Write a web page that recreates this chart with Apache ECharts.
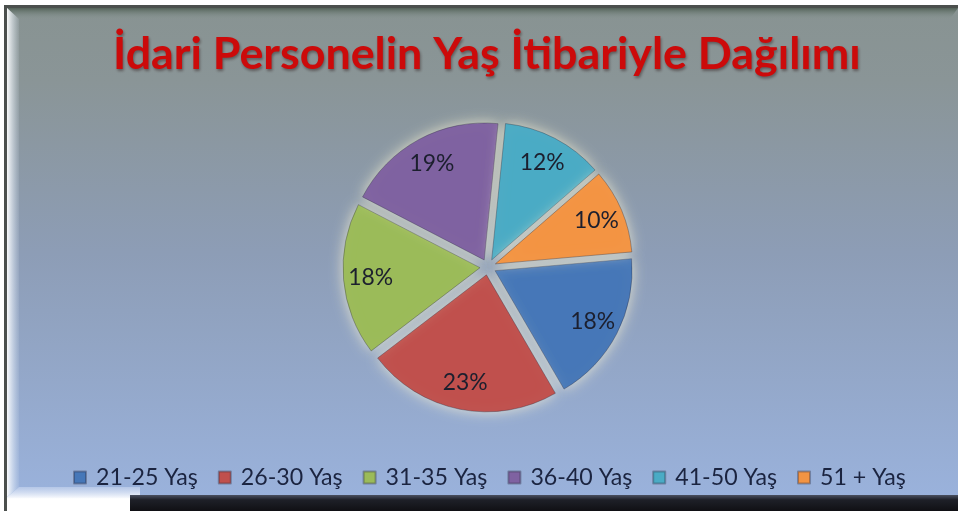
<!DOCTYPE html>
<html><head><meta charset="utf-8">
<script src="https://cdn.jsdelivr.net/npm/echarts@6/dist/echarts.min.js"></script>
<style>html,body{margin:0;padding:0;background:#fff}#c{width:958px;height:511px}</style>
</head><body><div id="c"></div>
<script>
const titleText = 'İdari Personelin Yaş İtibariyle Dağılımı';
const categories = ['21-25 Yaş', '26-30 Yaş', '31-35 Yaş', '36-40 Yaş', '41-50 Yaş', '51 + Yaş'];
const shares = [18, 23, 18, 19, 12, 10];
const colors = ['#4677b8', '#c0504d', '#9bbb59', '#7f62a1', '#4aabc5', '#f39443'];

function fitSize(text, family, weight, target) {
  const ctx = document.createElement('canvas').getContext('2d');
  ctx.font = weight + ' 100px ' + family;
  return Math.round(1000 * target / ctx.measureText(text).width) / 10;
}
const FONT = 'Lato';
const titleSize = fitSize(titleText, FONT, 'bold', 748);
const legendSize = fitSize('21-25 Yaş', FONT, 'normal', 102);
const labelSize = fitSize('19%', FONT, 'normal', 45);

const pieData = categories.map((c, i) => ({
  name: c, value: shares[i], selected: true,
  itemStyle: { color: colors[i] }
}));
const labelData = categories.map((c, i) => ({ name: c, value: shares[i], selected: true }));

const center = [488, 267];
const R = 137;
const lin = (x, y, x2, y2, stops) => new echarts.graphic.LinearGradient(x, y, x2, y2, stops);

const chart = echarts.init(document.getElementById('c'), null, { renderer: 'canvas' });
chart.setOption({
  animation: false,
  color: colors,
  graphic: [
    { type: 'rect', z: -5, silent: true, shape: { x: 4, y: 5, width: 954, height: 506 }, style: { fill: '#4b4f4d' } },
    { type: 'rect', z: -4, silent: true, shape: { x: 7, y: 8, width: 951, height: 503 }, style: { fill: '#ffffff' } },
    { type: 'rect', z: -3, silent: true, shape: { x: 7, y: 8, width: 951, height: 490 },
      style: { fill: lin(0, 0, 0, 1, [
        { offset: 0, color: '#889392' }, { offset: 0.15, color: '#8a9597' },
        { offset: 0.5, color: '#8d9db6' }, { offset: 1, color: '#9ab2dc' }]) } },
    { type: 'polygon', z: -2, silent: true, shape: { points: [[7, 8], [958, 8], [950, 19], [19, 19]] },
      style: { fill: lin(0, 0, 0, 1, [{ offset: 0, color: 'rgba(80,95,85,0.95)' }, { offset: 1, color: 'rgba(130,145,140,0)' }]) } },
    { type: 'polygon', z: -2, silent: true, shape: { points: [[7, 8], [19, 19], [19, 487], [7, 497]] },
      style: { fill: lin(0, 0, 1, 0, [{ offset: 0, color: 'rgba(255,255,255,0.95)' }, { offset: 1, color: 'rgba(220,232,245,0.1)' }]) } },
    { type: 'polygon', z: -2, silent: true, shape: { points: [[7, 497], [19, 487], [140, 487], [140, 499], [7, 499]] },
      style: { fill: lin(0, 0, 0, 1, [{ offset: 0, color: 'rgba(200,214,240,0.6)' }, { offset: 1, color: 'rgba(255,255,255,1)' }]) } },
    { type: 'rect', z: -2, silent: true, shape: { x: 130, y: 495, width: 828, height: 16 },
      style: { fill: lin(0, 0, 0, 1, [{ offset: 0, color: '#4a5060' }, { offset: 0.3, color: '#1e2028' }, { offset: 1, color: '#101014' }]) } }
  ],
  title: {
    text: titleText,
    left: 108, top: 27,
    textStyle: {
      fontFamily: FONT, fontWeight: 'bold', fontSize: titleSize, color: '#cc0a0a',
      textShadowColor: 'rgba(40,20,20,0.45)', textShadowBlur: 3, textShadowOffsetX: 1, textShadowOffsetY: 2
    }
  },
  legend: {
    data: categories,
    left: 68, top: 461,
    icon: 'rect', itemWidth: 12, itemHeight: 12, itemGap: 20,
    selectedMode: false,
    textStyle: { fontFamily: FONT, fontSize: legendSize, color: '#1b2440', padding: [0, 0, 0, 5] }
  },
  series: [
    {
      type: 'pie', name: 'pie', center: center, radius: [0, R],
      startAngle: 5, clockwise: true,
      selectedMode: 'multiple', selectedOffset: 8,
      emphasis: { disabled: true },
      itemStyle: { borderColor: 'rgba(40,40,60,0.35)', borderWidth: 1,
        shadowBlur: 14, shadowColor: 'rgba(255,250,215,0.75)' },
      label: { show: false }, labelLine: { show: false },
      data: pieData, z: 2
    },
    {
      type: 'pie', name: 'labels', center: center, radius: [R * 0.56, R],
      startAngle: 5, clockwise: true, silent: true,
      selectedMode: 'multiple', selectedOffset: 8,
      emphasis: { disabled: true },
      itemStyle: { color: 'rgba(0,0,0,0)', borderWidth: 0 },
      label: { show: true, position: 'inside', rotate: 0, formatter: p => p.value + '%',
        fontFamily: FONT, fontSize: labelSize, color: '#1c1f2e' },
      labelLine: { show: false },
      data: labelData, z: 3
    }
  ]
});
</script></body></html>
